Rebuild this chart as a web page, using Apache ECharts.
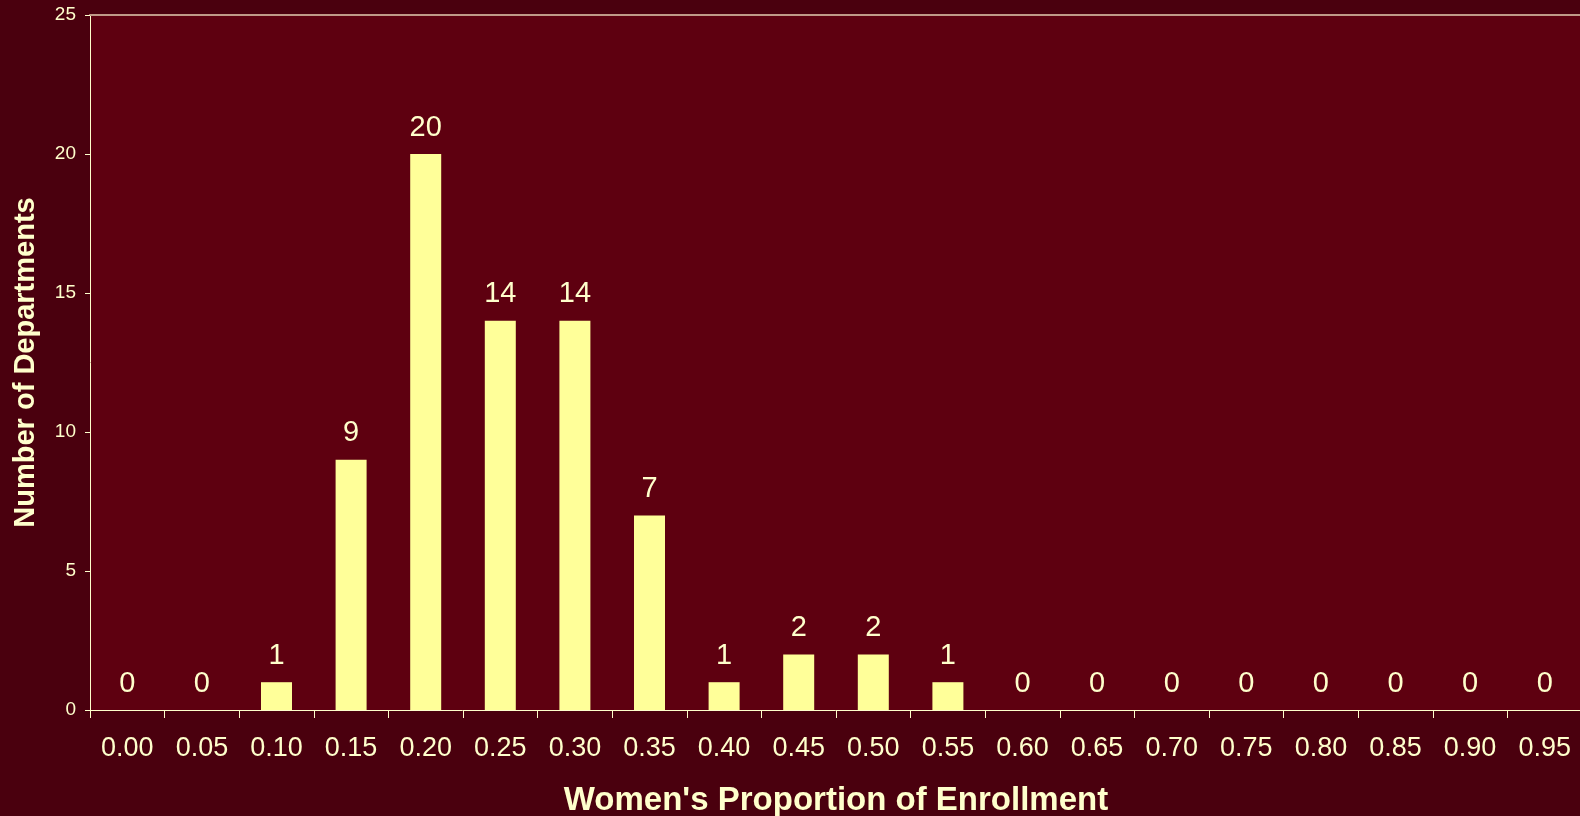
<!DOCTYPE html>
<html>
<head>
<meta charset="utf-8">
<script src="https://cdn.jsdelivr.net/npm/echarts@6/dist/echarts.min.js"></script>
<style>
  html, body { margin: 0; padding: 0; background: #4a000e; }
  #chart { width: 1580px; height: 816px; }
</style>
</head>
<body>
<div id="chart"></div>
<script>
// Histogram bins: women's share of enrollment
const binLabels = ['0.00', '0.05', '0.10', '0.15', '0.20', '0.25', '0.30', '0.35', '0.40', '0.45',
                   '0.50', '0.55', '0.60', '0.65', '0.70', '0.75', '0.80', '0.85', '0.90', '0.95'];
// Number of departments in each bin
const departmentCounts = [0, 0, 1, 9, 20, 14, 14, 7, 1, 2, 2, 1, 0, 0, 0, 0, 0, 0, 0, 0];
// Count axis ticks
const countTicks = [0, 5, 10, 15, 20, 25];

const cream = '#ffffcc';
const font = '"Liberation Sans", Arial, sans-serif';

const chart = echarts.init(document.getElementById('chart'), null, { renderer: 'canvas' });

chart.setOption({
  backgroundColor: '#4a000e',
  animation: false,
  grid: {
    left: 90, top: 15, width: 1492, height: 695,
    outerBoundsMode: 'none',
    show: true, backgroundColor: '#5e0010', borderWidth: 0
  },
  xAxis: [{
    type: 'category',
    data: binLabels,
    position: 'bottom',
    axisLine: { lineStyle: { color: cream, width: 1 } },
    axisTick: { show: true, length: 8, inside: false, lineStyle: { color: cream } },
    axisLabel: { color: cream, fontSize: 27, fontFamily: font, margin: 25, interval: 0 },
    name: "Women's Proportion of Enrollment",
    nameLocation: 'middle',
    nameGap: 74,
    nameTextStyle: { color: cream, fontSize: 33, fontWeight: 'bold', fontFamily: font }
  }, {
    // top border of the plot area
    type: 'category',
    data: binLabels,
    position: 'top',
    axisLine: { lineStyle: { color: '#c09a88', width: 2 } },
    axisTick: { show: false },
    axisLabel: { show: false }
  }],
  yAxis: {
    type: 'value',
    min: countTicks[0],
    max: countTicks[countTicks.length - 1],
    interval: countTicks[1] - countTicks[0],
    axisLine: { show: true, lineStyle: { color: cream, width: 1 } },
    axisTick: { show: true, length: 5, lineStyle: { color: cream } },
    splitLine: { show: false },
    axisLabel: { color: cream, fontSize: 19, fontFamily: font, margin: 14 },
    name: 'Number of Departments',
    nameLocation: 'middle',
    nameGap: 50,
    nameTextStyle: { color: cream, fontSize: 29, fontWeight: 'bold', fontFamily: font }
  },
  series: [{
    type: 'bar',
    xAxisIndex: 0,
    data: departmentCounts,
    barWidth: 31,
    itemStyle: { color: '#ffff99' },
    label: {
      show: true,
      position: 'top',
      distance: 12,
      color: cream,
      fontSize: 29,
      fontFamily: font
    }
  }]
});
</script>
</body>
</html>
